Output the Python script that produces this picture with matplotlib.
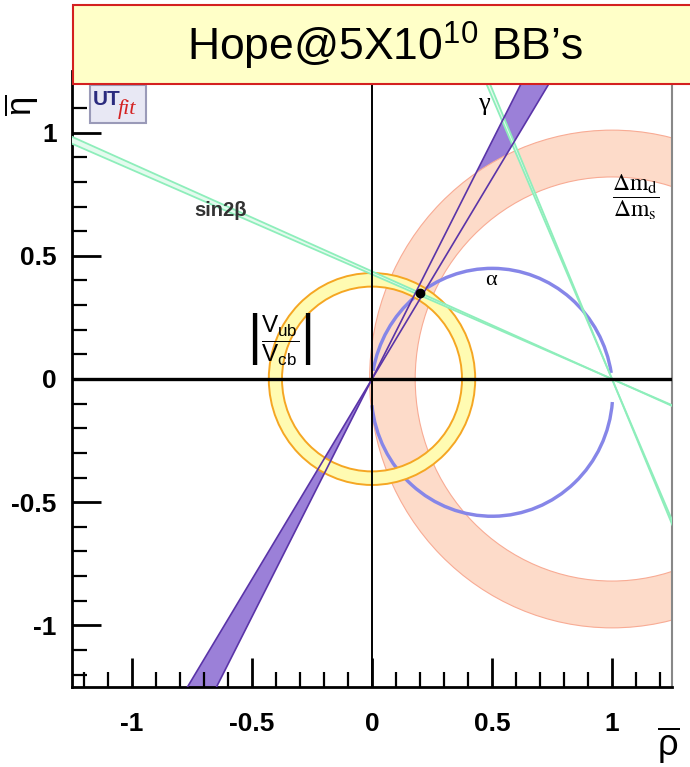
import numpy as np
import matplotlib.pyplot as plt
from matplotlib.patches import Wedge, Circle, Polygon, Rectangle
from matplotlib.ticker import MultipleLocator, FuncFormatter

plt.rcParams['font.family'] = ['Liberation Sans', 'DejaVu Sans']
plt.rcParams['mathtext.fontset'] = 'custom'
plt.rcParams['mathtext.rm'] = 'Liberation Sans'
plt.rcParams['mathtext.it'] = 'Liberation Sans:italic'
plt.rcParams['mathtext.bf'] = 'Liberation Sans:bold'
plt.rcParams['axes.unicode_minus'] = False

# fitted apex (rho, eta)
apex = [0.20, 0.35]
# |Vub/Vcb| ring around the origin
vub_center = [0.0, 0.0]
vub_r = [0.375, 0.43]
# dm_d/dm_s ring around (1, 0)
dm_center = [1.0, 0.0]
dm_r = [0.82, 1.01]
# alpha: circle through (0,0) and (1,0), drawn as two arcs
alpha_center = [0.5, -0.054]
alpha_r = [0.496, 0.51]
alpha_arcs = [(9, 170), (186, 355.5)]
# sin2beta: both solutions through (1, 0), angle below the rho axis (deg)
beta_deg = [23.3, 66.7]
beta_half = 0.3
# gamma band through the origin (deg)
gamma_deg = [58.4, 62.6]

ticks_major = 0.5
ticks_minor = 0.1
lim = [-1.25, 1.25]


def bowtie(p, a1, a2, L=5.0):
    a1, a2 = np.radians(a1), np.radians(a2)
    px, py = p
    pts = [(px + L * np.cos(a1), py + L * np.sin(a1)),
           (px + L * np.cos(a2), py + L * np.sin(a2)),
           (px, py),
           (px - L * np.cos(a1), py - L * np.sin(a1)),
           (px - L * np.cos(a2), py - L * np.sin(a2)),
           (px, py)]
    return pts


def line_through(p, a, L=5.0):
    a = np.radians(a)
    return ([p[0] - L * np.cos(a), p[0] + L * np.cos(a)],
            [p[1] - L * np.sin(a), p[1] + L * np.sin(a)])


fig = plt.figure(figsize=(6.9, 7.67), dpi=100)
ax = fig.add_axes([72 / 690, 80 / 767, 600 / 690, 616 / 767])
ax.set_xlim(lim)
ax.set_ylim(lim)

# gamma band fill
ax.add_patch(Polygon(bowtie(vub_center, gamma_deg[0], gamma_deg[1]),
                     closed=True, facecolor='#9b80d8', edgecolor='none', zorder=1))

# dm_d/dm_s ring
ax.add_patch(Wedge(dm_center, dm_r[1], 0, 360, width=dm_r[1] - dm_r[0],
                   facecolor='#fddbc9', edgecolor='none', zorder=2))
for r in dm_r:
    ax.add_patch(Circle(dm_center, r, fill=False, edgecolor='#f8ab94', lw=0.8, zorder=2))

# alpha arcs
for t1, t2 in alpha_arcs:
    ax.add_patch(Wedge(alpha_center, alpha_r[1], t1, t2, width=alpha_r[1] - alpha_r[0],
                       facecolor='#8686e8', edgecolor='none', zorder=3))

# |Vub/Vcb| ring
ax.add_patch(Wedge(vub_center, vub_r[1], 0, 360, width=vub_r[1] - vub_r[0],
                   facecolor='#fffbb2', edgecolor='none', zorder=4))
for r in vub_r:
    ax.add_patch(Circle(vub_center, r, fill=False, edgecolor='#f5a623', lw=1.4, zorder=4))

# sin2beta bands
for b in beta_deg:
    a = 180 - b
    ax.add_patch(Polygon(bowtie(dm_center, a - beta_half, a + beta_half), closed=True,
                         facecolor='#e4fbee', edgecolor='none', zorder=5))
    for da in (-beta_half, beta_half):
        xs, ys = line_through(dm_center, a + da)
        ax.plot(xs, ys, color='#8eeebb', lw=1.3, zorder=5)

# gamma band edges
for g in gamma_deg:
    xs, ys = line_through(vub_center, g)
    ax.plot(xs, ys, color='#5a34a8', lw=1.2, zorder=6)

ax.axhline(0, color='black', lw=2.4, zorder=7)
ax.axvline(0, color='black', lw=1.4, zorder=7)
ax.plot(apex[0], apex[1], 'o', color='black', ms=6, zorder=8)

# labels
ax.text(-0.63, 0.685, 'sin2\u03b2', fontsize=14.5, fontweight='bold', color='#333333',
        ha='center', va='center', zorder=9)
ax.text(0.467, 1.115, '\u03b3', fontsize=19, family='Liberation Serif',
        ha='center', va='center', zorder=9)
ax.text(0.496, 0.40, '\u03b1', fontsize=16, family='Liberation Serif',
        ha='center', va='center', zorder=9)
ax.text(1.098, 0.737, r'$\dfrac{\Delta \mathrm{m}_\mathrm{d}}{\Delta \mathrm{m}_\mathrm{s}}$',
        fontsize=17, math_fontfamily='stix', ha='center', va='center', zorder=9)
ax.text(-0.388, 0.158,
        r'$\left|\dfrac{\mathrm{V}_{\mathrm{ub}}}{\mathrm{V}_{\mathrm{cb}}}\right|$',
        fontsize=17.5, ha='center', va='center', zorder=9)

# UTfit logo
ax.add_patch(Rectangle((0.03, 0.916), 0.093, 0.062, transform=ax.transAxes,
                       facecolor='#e8e8f4', edgecolor='#9a9ab8', lw=1.5, zorder=9))
ax.text(0.035, 0.953, 'UT', transform=ax.transAxes, fontsize=15, fontweight='bold',
        color='#2b2b7e', ha='left', va='center', zorder=10)
ax.text(0.077, 0.938, 'fit', transform=ax.transAxes, fontsize=16, style='italic',
        family='Liberation Serif', color='#d42222', ha='left', va='center', zorder=10)

# axes styling
for s in ('left', 'bottom'):
    ax.spines[s].set_linewidth(2)
    ax.spines[s].set_color('black')
ax.spines['right'].set_color('#888888')
ax.spines['right'].set_linewidth(1.5)
ax.spines['top'].set_visible(False)
for axis in (ax.xaxis, ax.yaxis):
    axis.set_major_locator(MultipleLocator(ticks_major))
    axis.set_minor_locator(MultipleLocator(ticks_minor))
    axis.set_major_formatter(FuncFormatter(lambda v, p: '%g' % (round(v, 3) + 0.0)))
ax.tick_params(which='major', direction='in', length=21, width=2, labelsize=19)
ax.tick_params(which='minor', direction='in', length=11, width=1.6)
ax.tick_params(axis='x', pad=18)
ax.tick_params(axis='y', pad=11)
for lab in ax.get_xticklabels() + ax.get_yticklabels():
    lab.set_fontweight('bold')

# axis titles
fig.text(668 / 690, 1 - 745 / 767, r'$\overline{\mathrm{\rho}}$', fontsize=26,
         ha='center', va='center')
fig.text(21 / 690, 1 - 105 / 767, r'$\overline{\mathrm{\eta}}$', fontsize=25,
         rotation=90, ha='center', va='center')

# title box
fig.add_artist(Rectangle((73 / 690, 1 - 84 / 767), 1.0, 79 / 767, transform=fig.transFigure,
                         facecolor='#ffffc8', edgecolor='#d42020', lw=1.5, zorder=20))
fig.text(385 / 690, 1 - 46 / 767, 'Hope@5X10$^{\\mathrm{10}}$ BB\u2019s', fontsize=32,
         ha='center', va='center', zorder=21)

fig.savefig('out.png', dpi=100)
